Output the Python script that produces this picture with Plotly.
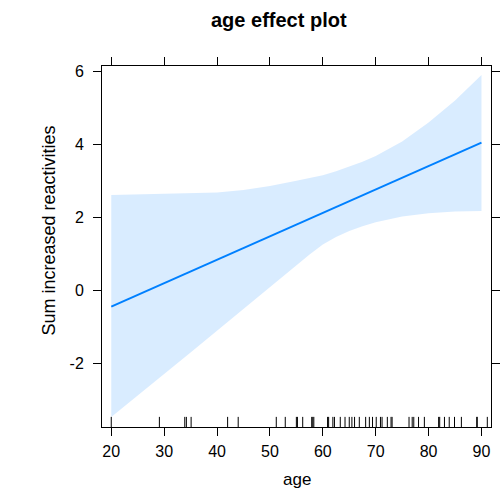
import plotly.graph_objects as go

# Fitted effect of age, with its confidence band
band_age = [20, 25, 30, 35, 40, 45, 50, 55, 57.5, 60, 62.5, 65, 67.5, 70, 75, 80, 85, 90]
band_upper = [2.61, 2.63, 2.64, 2.66, 2.68, 2.75, 2.86, 3.00, 3.07, 3.15, 3.26, 3.38,
              3.52, 3.68, 4.08, 4.60, 5.20, 5.90]
band_lower = [-3.48, -2.89, -2.30, -1.71, -1.12, -0.53, 0.07, 0.68, 0.98, 1.25, 1.46,
              1.62, 1.75, 1.86, 2.02, 2.11, 2.16, 2.17]
fit_age = [20, 90]
fit_value = [-0.45, 4.05]

# Observed ages (rug, jittered)
rug_age = [20.0, 29.1, 33.9, 34.2, 35.1, 42.0, 44.0, 51.2, 52.9, 55.0, 55.2, 56.2,
           57.9, 58.1, 58.3, 60.9, 61.1, 61.9, 62.2, 63.3, 64.2, 65.0, 65.5, 66.0,
           66.9, 68.1, 68.8, 69.4, 70.1, 70.9, 71.2, 72.2, 72.9, 73.1, 76.3, 76.9,
           77.2, 78.1, 79.2, 81.9, 82.1, 83.0, 83.9, 84.9, 86.2, 89.1, 89.2, 91.1]

x_ticks = [20, 30, 40, 50, 60, 70, 80, 90]
y_ticks = [-2, 0, 2, 4, 6]
y_tick_text = ["-2", "0", "2", "4", "6"]

FONT = "Liberation Sans, Arial, Helvetica, sans-serif"
LINE_BLUE = "#0080FF"
BAND_BLUE = "rgba(0,128,255,0.15)"

fig = go.Figure()

fig.add_trace(go.Scatter(
    x=band_age + band_age[::-1],
    y=band_upper + band_lower[::-1],
    fill="toself", fillcolor=BAND_BLUE,
    line=dict(width=0), mode="lines", hoverinfo="skip", showlegend=False,
))

fig.add_trace(go.Scatter(
    x=fit_age, y=fit_value, mode="lines",
    line=dict(color=LINE_BLUE, width=2), showlegend=False,
))

# Rug segments drawn on an overlaid unit axis
rug_x, rug_y = [], []
for a in rug_age:
    rug_x += [a, a, None]
    rug_y += [0, 0.028, None]
fig.add_trace(go.Scatter(
    x=rug_x, y=rug_y, yaxis="y2", mode="lines",
    line=dict(color="black", width=1), hoverinfo="skip", showlegend=False,
))

axis_common = dict(
    showline=True, linecolor="black", linewidth=1, mirror="ticks",
    ticks="outside", ticklen=8, tickwidth=1, tickcolor="black",
    showgrid=False, zeroline=False, automargin=False,
    tickfont=dict(family=FONT, size=16, color="black"),
)

fig.update_layout(
    width=500, height=497,
    margin=dict(l=102, r=9, t=66, b=70, autoexpand=False),
    paper_bgcolor="white", plot_bgcolor="white",
    xaxis=dict(range=[18.25, 91.8], tickvals=x_ticks, ticklabelstandoff=2, **axis_common),
    yaxis=dict(range=[-3.755, 6.15], tickvals=y_ticks, ticktext=y_tick_text,
               ticklabelstandoff=6, **axis_common),
    yaxis2=dict(overlaying="y", range=[0, 1], visible=False, fixedrange=True,
                automargin=False),
    annotations=[
        dict(text="<b>age effect plot</b>", xref="paper", yref="paper",
             x=0.4545, y=1, yshift=46, showarrow=False,
             font=dict(family=FONT, size=20, color="black"), yanchor="middle"),
        dict(text="age", xref="paper", yref="paper", x=0.5, y=0, yshift=-52,
             showarrow=False, font=dict(family=FONT, size=17, color="black"),
             yanchor="middle"),
        dict(text="Sum increased reactivities", xref="paper", yref="paper",
             x=0, xshift=-54, y=0.5, yshift=16, textangle=-90, showarrow=False,
             font=dict(family=FONT, size=18, color="black"), xanchor="center"),
    ],
)

fig.write_html("out.html")
